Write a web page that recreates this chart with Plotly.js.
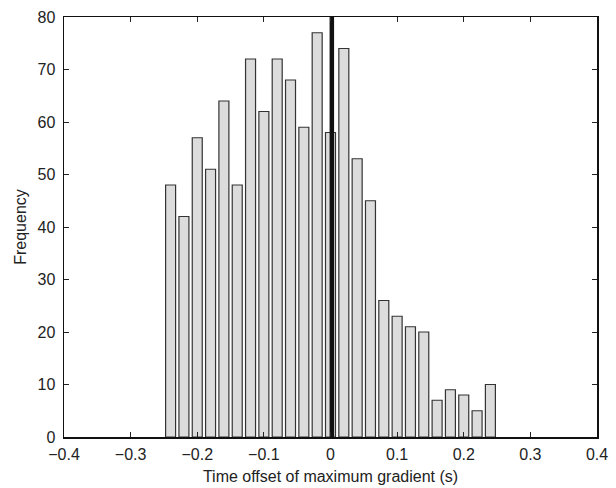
<!DOCTYPE html>
<html>
<head>
<meta charset="utf-8">
<script src="https://cdn.plot.ly/plotly-3.0.1.min.js"></script>
<style>html,body{margin:0;padding:0;background:#fff;}#chart{width:616px;height:488px;}</style>
</head>
<body>
<div id="chart"></div>
<script>
// Bin centres (s)
const binCenters = [-0.24,-0.22,-0.20,-0.18,-0.16,-0.14,-0.12,-0.10,-0.08,-0.06,-0.04,-0.02,0.00,
                    0.02,0.04,0.06,0.08,0.10,0.12,0.14,0.16,0.18,0.20,0.22,0.24];
// Frequencies
const frequencies = [48,42,57,51,64,48,72,62,72,68,59,77,58,74,53,45,26,23,21,20,7,9,8,5,10];
// Reference marker position and y-span
const markerX = [0.002, 0.002];
const markerY = [0, 80];
const xTicks = [-0.4,-0.3,-0.2,-0.1,0,0.1,0.2,0.3,0.4];
const xTickText = ['\u22120.4','\u22120.3','\u22120.2','\u22120.1','0','0.1','0.2','0.3','0.4'];
const yTicks = [0,10,20,30,40,50,60,70,80];

const font = {family: 'Liberation Sans, Arial, sans-serif', size: 16, color: '#222'};

const traces = [
  {
    type: 'bar', x: binCenters, y: frequencies, width: 0.015,
    marker: {color: '#dcdcdc', line: {color: '#333', width: 1.2}},
    hoverinfo: 'x+y'
  },
  {
    type: 'scatter', mode: 'lines', x: markerX, y: markerY,
    line: {color: '#111', width: 4.5}, hoverinfo: 'skip'
  }
];

const layout = {
  width: 616, height: 488,
  margin: {l: 64, r: 19, t: 17, b: 51},
  paper_bgcolor: '#fff', plot_bgcolor: '#fff',
  showlegend: false,
  font: font,
  xaxis: {
    range: [-0.4, 0.4], tickvals: xTicks, ticktext: xTickText,
    ticks: 'inside', ticklen: 5, tickcolor: '#222',
    showline: true, linecolor: '#111', linewidth: 1.5, mirror: 'ticks',
    showgrid: false, zeroline: false,
    ticklabelstandoff: 2,
    title: {text: 'Time offset of maximum gradient (s)', font: font, standoff: 9},
    tickfont: font
  },
  yaxis: {
    range: [0, 80], tickvals: yTicks,
    ticks: 'inside', ticklen: 5, tickcolor: '#222',
    showline: true, linecolor: '#111', linewidth: 1.5, mirror: 'ticks',
    showgrid: false, zeroline: false,
    ticklabelstandoff: 4,
    title: {text: 'Frequency', font: font, standoff: 7},
    tickfont: font
  }
};

Plotly.newPlot('chart', traces, layout, {displayModeBar: false, staticPlot: true});
</script>
</body>
</html>
